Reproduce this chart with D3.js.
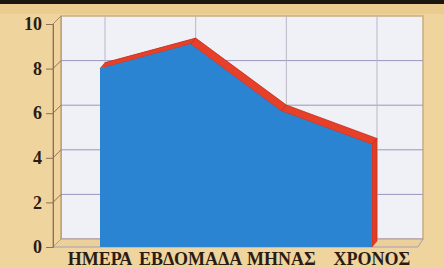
<!DOCTYPE html>
<html>
<head>
<meta charset="utf-8">
<script src="https://cdn.jsdelivr.net/npm/d3@7.9.0/dist/d3.min.js"></script>
<style>
  html, body { margin: 0; padding: 0; background: #efd49e; }
  svg { display: block; }
  .tick text { font-family: "Liberation Serif", "DejaVu Serif", serif; font-weight: bold; }
</style>
</head>
<body>
<svg id="chart" width="444" height="268"></svg>
<script>
// data
const categories = ['ΗΜΕΡΑ', 'ΕΒΔΟΜΑΔΑ', 'ΜΗΝΑΣ', 'ΧΡΟΝΟΣ'];
const values = [8, 9.1, 6.1, 4.6];
const yTicks = [0, 2, 4, 6, 8, 10];

const svg = d3.select('#chart');
const W = 444, H = 268;

let x = d3.scalePoint().domain(categories).range([100, 372]);
let y = d3.scaleLinear().domain([0, 10]).range([247, 24]);

// depth of the box and of the area
const wallDx = 8, wallDy = -8;
const areaDx = 5, areaDy = -6;
const left = 53, right = 415;

// background
svg.append('rect').attr('width', W).attr('height', H).attr('fill', '#efd49e');
svg.append('rect').attr('width', W).attr('height', 4).attr('fill', '#1c1610');
svg.append('rect').attr('y', 4).attr('width', W).attr('height', 10).attr('fill', '#ebcc90');

// back wall
svg.append('rect')
    .attr('x', left + wallDx).attr('y', y(10) + wallDy)
    .attr('width', right - left).attr('height', y(0) - y(10))
    .attr('fill', '#eff1f7').attr('stroke', '#c9ad80').attr('stroke-width', 1.5);

// left wall
svg.append('path')
    .attr('d', `M${left},${y(10)}L${left + wallDx},${y(10) + wallDy}L${left + wallDx},${y(0) + wallDy}L${left},${y(0)}Z`)
    .attr('fill', '#efd49e').attr('stroke', '#a88a68').attr('stroke-width', 1);

// floor
svg.append('path')
    .attr('d', `M${left},${y(0)}L${left + wallDx},${y(0) + wallDy}L${right + wallDx},${y(0) + wallDy}L${right + 3},${y(0)}Z`)
    .attr('fill', '#ecd09a').attr('stroke', '#a89ab8').attr('stroke-width', 1);

// horizontal gridlines on the back wall + on the side wall
yTicks.filter(t => t > 0 && t < 10).forEach(t => {
    svg.append('line')
        .attr('x1', left + wallDx).attr('x2', right + wallDx)
        .attr('y1', y(t) + wallDy).attr('y2', y(t) + wallDy)
        .attr('stroke', '#9c94bc').attr('stroke-width', 1);
    svg.append('line')
        .attr('x1', left).attr('x2', left + wallDx)
        .attr('y1', y(t)).attr('y2', y(t) + wallDy)
        .attr('stroke', '#8a7058').attr('stroke-width', 1);
});

// vertical gridlines on the back wall
categories.forEach(c => {
    svg.append('line')
        .attr('x1', x(c) + areaDx).attr('x2', x(c) + areaDx)
        .attr('y1', y(10) + wallDy).attr('y2', y(0) + wallDy)
        .attr('stroke', '#b8b8c6').attr('stroke-width', 1);
});

// y axis
let yAxis = d3.axisLeft(y).tickValues(yTicks).tickSize(7).tickPadding(4).tickFormat(d3.format('d'));
let gy = svg.append('g').attr('transform', `translate(${left},0)`).call(yAxis);
gy.select('.domain').attr('stroke', '#8a7058');
gy.selectAll('.tick line').attr('stroke', '#8a7058');
gy.selectAll('.tick text').attr('fill', '#2a1c14').attr('font-size', 18);

// area with a red extruded top
let pts = categories.map((c, i) => [x(c), y(values[i])]);
let area = d3.area().x(d => d[0]).y0(y(0)).y1(d => d[1]);

svg.append('path')
    .attr('d', area(pts))
    .attr('transform', `translate(${areaDx},${areaDy})`)
    .attr('fill', '#e6402a');

for (let i = 0; i < pts.length - 1; i++) {
    let [x0, y0] = pts[i], [x1, y1] = pts[i + 1];
    svg.append('path')
        .attr('d', `M${x0},${y0}L${x0 + areaDx},${y0 + areaDy}L${x1 + areaDx},${y1 + areaDy}L${x1},${y1}Z`)
        .attr('fill', '#e6402a').attr('stroke', '#b8301e').attr('stroke-width', 0.6);
}
let last = pts[pts.length - 1];
svg.append('path')
    .attr('d', `M${last[0]},${last[1]}L${last[0] + areaDx},${last[1] + areaDy}L${last[0] + areaDx},${y(0) + areaDy}L${last[0]},${y(0)}Z`)
    .attr('fill', '#e23c26').attr('stroke', '#b8301e').attr('stroke-width', 0.6);

svg.append('path')
    .attr('d', area(pts))
    .attr('fill', '#2b84d2');

// category labels
svg.append('g').selectAll('text')
    .data(categories)
    .join('text')
    .attr('x', d => x(d))
    .attr('y', 265)
    .attr('text-anchor', 'middle')
    .attr('font-family', '"Liberation Serif", "DejaVu Serif", serif')
    .attr('font-weight', 'bold')
    .attr('font-size', 18)
    .attr('fill', '#2a1c14')
    .text(d => d);
</script>
</body>
</html>
